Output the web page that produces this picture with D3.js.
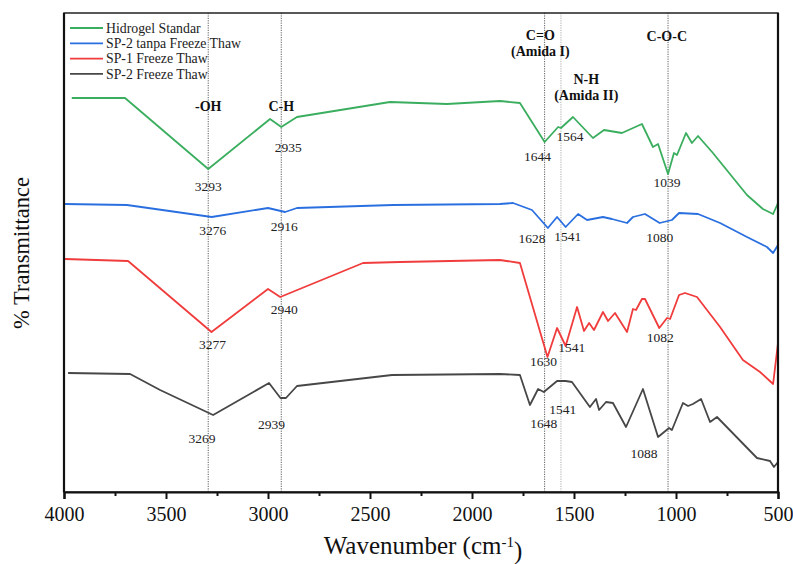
<!DOCTYPE html>
<html>
<head>
<meta charset="utf-8">
<script src="https://cdn.jsdelivr.net/npm/d3@7"></script>
<style>
  body { margin: 0; background: #fff; }
  svg text { font-family: "Liberation Serif", "Times New Roman", serif; }
</style>
</head>
<body>
<div id="chart"></div>
<script>
// FTIR spectra, stacked (offset transmittance, arbitrary units)
var seriesNames = ["Hidrogel Standar", "SP-2 tanpa Freeze Thaw", "SP-1 Freeze Thaw", "SP-2 Freeze Thaw"];
var seriesColors = ["#3aae5e", "#2a6fe0", "#f03c3c", "#474747"];

// [wavenumber, value]
var hidrogel = [[3962,394],[3701,394],[3293,323],[2990,373],[2935,365],[2858,375],[2402,390],[2123,388],
  [1863,391],[1765,389],[1644,350],[1578,365],[1564,364],[1505,375],[1407,354],[1353,362],[1265,359],
  [1167,368],[1113,345],[1088,348],[1039,318],[1010,339],[995,337],[985,342],[951,359],[922,349],
  [892,356],[819,339],[652,297],[574,283],[524,278],[500,289]];
var sp2tanpa = [[3995,288],[3691,287],[3276,275],[3000,284],[2916,280],[2858,284],[2387,287],[1863,288],
  [1799,289],[1706,282],[1628,264],[1583,275],[1541,265],[1480,278],[1436,272],[1358,275],[1314,273],
  [1240,269],[1211,275],[1152,278],[1080,269],[1020,272],[985,279],[892,278],[784,269],[652,255],
  [554,245],[524,239],[500,247]];
var sp1ft = [[3995,233],[3686,231],[3277,160],[3000,203],[2940,195],[2534,229],[2353,230],[1863,232],
  [1765,229],[1630,135],[1583,164],[1541,146],[1485,185],[1451,161],[1426,169],[1402,162],[1358,180],
  [1333,171],[1299,179],[1240,160],[1211,183],[1196,182],[1167,193],[1152,193],[1082,164],[1044,174],
  [1029,173],[985,197],[956,199],[897,195],[784,165],[672,132],[588,120],[524,108],[500,149]];
var sp2ft = [[3980,119],[3676,118],[3529,102],[3269,77],[2995,109],[2939,94],[2912,94],[2858,106],
  [2392,117],[1863,118],[1765,117],[1716,87],[1676,103],[1648,100],[1583,111],[1541,111],[1510,110],[1422,85],
  [1392,93],[1377,82],[1343,90],[1309,89],[1245,65],[1162,103],[1088,55],[1034,64],[1020,62],[966,89],
  [941,86],[917,88],[877,93],[833,70],[799,75],[603,34],[539,31],[520,25],[500,30]];
var allSeries = [hidrogel, sp2tanpa, sp1ft, sp2ft];

// peak labels: [text, series index, wavenumber, dx, dy] offsets relative to the peak point
var peakLabels = [
  ["3293", 0, 3293, 0, 22], ["2935", 0, 2935, 7, 25], ["1644", 0, 1644, -7, 19], ["1564", 0, 1564, 9, 13], ["1039", 0, 1039, -1, 13],
  ["3276", 1, 3276, 1, 18], ["2916", 1, 2916, -1, 19], ["1628", 1, 1628, -16, 15], ["1541", 1, 1541, 2, 14], ["1080", 1, 1080, 0, 19],
  ["3277", 2, 3277, 1, 17], ["2940", 2, 2940, 4, 17], ["1630", 2, 1630, -4, 9], ["1541", 2, 1541, 6, 6], ["1082", 2, 1082, 1, 14],
  ["3269", 3, 3269, -11, 28], ["2939", 3, 2939, -9, 31], ["1648", 3, 1648, 0, 36], ["1541", 3, 1541, -3, 33], ["1088", 3, 1088, -14, 21]
];

// vertical reference lines and group labels
var refLines = [3293, 2935, 1644, 1564, 1039];
var groupLabels = [
  [3293, "-OH", 111], [2935, "C-H", 111],
  [1665, "C=O", 40], [1665, "(Amida I)", 56],
  [1440, "N-H", 84], [1440, "(Amida II)", 100],
  [1045, "C-O-C", 41]
];
var xTicks = [4000, 3500, 3000, 2500, 2000, 1500, 1000, 500];
var xMinorTicks = [3750, 3250, 2750, 2250, 1750, 1250, 750];

var margin = { top: 13, right: 15, bottom: 72, left: 64 },
    width = 793 - margin.left - margin.right,
    height = 564 - margin.top - margin.bottom;

var svg = d3.select("#chart").append("svg")
    .attr("width", 793)
    .attr("height", 564)
  .append("g")
    .attr("transform", "translate(" + margin.left + "," + margin.top + ")");

var x = d3.scaleLinear().domain([4000, 500]).range([0, width]);
var y = d3.scaleLinear().domain([0, height]).range([height, 0]);

var line = d3.line()
    .x(function(d) { return x(d[0]); })
    .y(function(d) { return y(d[1]); });

// dotted reference lines
svg.selectAll(".ref")
    .data(refLines)
    .enter().append("line")
    .attr("class", "ref")
    .attr("x1", function(d) { return x(d); })
    .attr("x2", function(d) { return x(d); })
    .attr("y1", 0)
    .attr("y2", height)
    .style("stroke", function(d) { return d == 1564 ? "#999" : "#333"; })
    .style("stroke-width", 0.8)
    .style("stroke-dasharray", "1.2,1.2");

// spectra
svg.selectAll(".spec")
    .data(allSeries)
    .enter().append("path")
    .attr("class", "spec")
    .attr("d", line)
    .attr("fill", "none")
    .attr("stroke", function(d, i) { return seriesColors[i]; })
    .attr("stroke-width", 1.8)
    .attr("stroke-linejoin", "round");

// peak numbers
svg.selectAll(".peak")
    .data(peakLabels)
    .enter().append("text")
    .attr("class", "peak")
    .attr("x", function(d) { return x(d[2]) + d[3]; })
    .attr("y", function(d) {
        var pt = allSeries[d[1]].filter(function(p) { return p[0] == d[2]; })[0];
        return y(pt[1]) + d[4];
    })
    .attr("text-anchor", "middle")
    .style("font-size", "13.5px")
    .style("fill", "#222")
    .text(function(d) { return d[0]; });

// group labels
svg.selectAll(".grp")
    .data(groupLabels)
    .enter().append("text")
    .attr("class", "grp")
    .attr("x", function(d) { return x(d[0]); })
    .attr("y", function(d) { return d[2] - margin.top; })
    .attr("text-anchor", "middle")
    .style("font-size", "14px")
    .style("font-weight", "bold")
    .style("fill", "#111")
    .text(function(d) { return d[1]; });

// frame
svg.append("rect")
    .attr("x", 0).attr("y", 0)
    .attr("width", width).attr("height", height)
    .attr("fill", "none")
    .attr("stroke", "#222")
    .attr("stroke-width", 1.5);
svg.append("line").attr("x1", 0).attr("x2", 0).attr("y1", 0).attr("y2", height)
    .attr("stroke", "#111").attr("stroke-width", 2.2);
svg.append("line").attr("x1", width).attr("x2", width).attr("y1", 0).attr("y2", height)
    .attr("stroke", "#111").attr("stroke-width", 2.2);

// x axis
var xAxis = d3.axisBottom(x).tickValues(xTicks).tickSize(7).tickFormat(d3.format("d"));
var gx = svg.append("g")
    .attr("class", "x axis")
    .attr("transform", "translate(0," + height + ")")
    .call(xAxis);
gx.select(".domain").attr("stroke", "#111").attr("stroke-width", 2.2);
gx.selectAll(".tick line").attr("stroke", "#111").attr("stroke-width", 2);
gx.selectAll(".tick text")
    .attr("y", 11)
    .attr("dy", "0.9em")
    .style("font-family", "'Liberation Serif', serif")
    .style("font-size", "20px")
    .style("fill", "#111");

var gxm = svg.append("g")
    .attr("transform", "translate(0," + height + ")")
    .call(d3.axisBottom(x).tickValues(xMinorTicks).tickSize(4).tickFormat(""));
gxm.select(".domain").remove();
gxm.selectAll(".tick line").attr("stroke", "#111").attr("stroke-width", 2);

// axis titles
var xt = svg.append("text")
    .attr("x", width / 2 + 2)
    .attr("y", height + 62)
    .attr("text-anchor", "middle")
    .style("font-size", "25px")
    .style("fill", "#111");
xt.append("tspan").text("Wavenumber (cm");
xt.append("tspan").attr("dy", "-0.5em").style("font-size", "15px").text("-1");
xt.append("tspan").attr("dy", "0.5em").text(")");

svg.append("text")
    .attr("transform", "translate(" + (-35) + "," + (253 - margin.top) + ") rotate(-90)")
    .attr("text-anchor", "middle")
    .style("font-size", "22.5px")
    .style("fill", "#111")
    .text("% Transmittance");

// legend
var legend = svg.selectAll(".legend")
    .data(seriesNames)
    .enter().append("g")
    .attr("class", "legend")
    .attr("transform", function(d, i) { return "translate(6," + (15 + i * 15.3) + ")"; });
legend.append("line")
    .attr("x1", 0).attr("x2", 33)
    .attr("stroke", function(d, i) { return seriesColors[i]; })
    .attr("stroke-width", 1.8);
legend.append("text")
    .attr("x", 36)
    .attr("dy", "0.35em")
    .style("font-size", "13.8px")
    .style("fill", "#222")
    .text(function(d) { return d; });
</script>
</body>
</html>
